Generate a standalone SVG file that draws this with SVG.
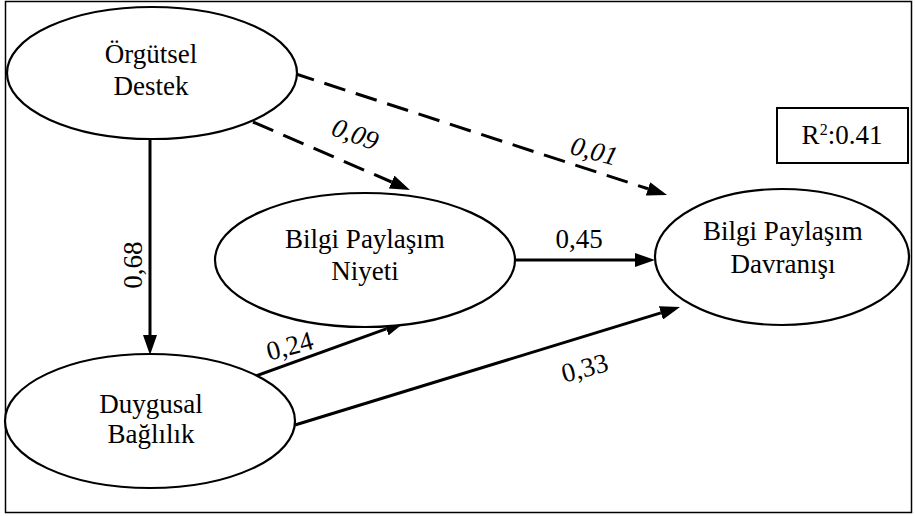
<svg xmlns="http://www.w3.org/2000/svg" width="915" height="516" viewBox="0 0 915 516">
  <style>
    .node ellipse { fill: #ffffff; stroke: #000000; stroke-width: 2.2; }
    .edge { stroke: #000000; stroke-width: 3; fill: none; }
    .dash { stroke-dasharray: 22 11; }
    text { font-family: "Liberation Serif", "Times New Roman", serif; font-size: 27px; fill: #000000; text-anchor: middle; }
    .it { font-style: italic; }
  </style>
  <defs>
    <marker id="arrow" markerUnits="userSpaceOnUse" markerWidth="20" markerHeight="14" refX="0" refY="7" orient="auto">
      <path d="M0,0 L20,7 L0,14 z" fill="#000000"/>
    </marker>
  </defs>

  <rect x="0" y="0" width="915" height="516" fill="#ffffff"/>
  <!-- outer frame -->
  <rect x="5.5" y="1.5" width="906" height="511" fill="none" stroke="#000000" stroke-width="1.5"/>

  <!-- connectors -->
  <g id="edges">
    <line class="edge" x1="150" y1="140" x2="150" y2="335" marker-end="url(#arrow)"/>
    <line class="edge dash" x1="253" y1="122" x2="391.6" y2="182" marker-end="url(#arrow)"/>
    <line class="edge dash" x1="293" y1="73" x2="648" y2="188.8" marker-end="url(#arrow)"/>
    <line class="edge" x1="515" y1="260" x2="635" y2="260" marker-end="url(#arrow)"/>
    <line class="edge" x1="253" y1="377" x2="386.2" y2="328.8" marker-end="url(#arrow)"/>
    <line class="edge" x1="295" y1="425" x2="660.9" y2="312.9" marker-end="url(#arrow)"/>

    <text transform="translate(133,265) rotate(-90)" y="9">0,68</text>
    <text class="it" transform="translate(355,135) rotate(20)" y="8">0,09</text>
    <text class="it" transform="translate(594,152) rotate(15)" y="8">0,01</text>
    <text x="579" y="248">0,45</text>
    <text transform="translate(290,347) rotate(-15)" y="8">0,24</text>
    <text transform="translate(585,369) rotate(-15)" y="8">0,33</text>
  </g>

  <g id="orgutsel-destek" class="node">
    <ellipse cx="152" cy="73" rx="145" ry="66"/>
    <text x="151" y="63">Örgütsel</text>
    <text x="151" y="95">Destek</text>
  </g>

  <g id="duygusal-baglilik" class="node">
    <ellipse cx="150" cy="421" rx="145" ry="67"/>
    <text x="151" y="413">Duygusal</text>
    <text x="151" y="443">Bağlılık</text>
  </g>

  <g id="bilgi-paylasim-niyeti" class="node">
    <ellipse cx="365" cy="260" rx="150" ry="67"/>
    <text x="365" y="248">Bilgi Paylaşım</text>
    <text x="365" y="280">Niyeti</text>
  </g>

  <g id="bilgi-paylasim-davranisi" class="node">
    <ellipse cx="782" cy="257" rx="127" ry="68"/>
    <text x="783" y="240">Bilgi Paylaşım</text>
    <text x="783" y="273">Davranışı</text>
  </g>

  <g id="r2">
    <rect x="777" y="108" width="131" height="55" fill="#ffffff" stroke="#000000" stroke-width="2"/>
    <text x="842" y="144">R<tspan font-size="16" dy="-9">2</tspan><tspan dy="9">:0.41</tspan></text>
  </g>
</svg>
